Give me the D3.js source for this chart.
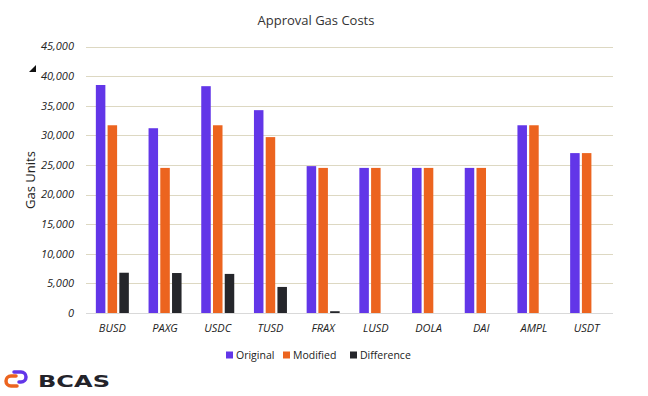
<!DOCTYPE html>
<html>
<head>
    <script src="https://d3js.org/d3.v7.min.js"></script>
    <style>
        body { margin: 0; background: #fff; }
        text { font-family: "Open Sans", "Noto Sans", sans-serif; fill: #222; }
        .tick-label { font-size: 11px; font-style: italic; }
        .title { font-size: 13px; fill: #333; }
        .legend text { font-size: 10.5px; }
    </style>
</head>
<body>
<svg width="648" height="396"></svg>
<script>
    // Chart data
    const categories = ["BUSD", "PAXG", "USDC", "TUSD", "FRAX", "LUSD", "DOLA", "DAI", "AMPL", "USDT"];
    const original   = [38500, 31200, 38300, 34250, 24800, 24500, 24500, 24500, 31700, 27000];
    const modified   = [31700, 24500, 31700, 29700, 24500, 24500, 24500, 24500, 31700, 27000];
    const difference = [6800, 6750, 6600, 4400, 300, 0, 0, 0, 0, 0];
    const seriesNames = ["Original", "Modified", "Difference"];
    const yTicks = [0, 5000, 10000, 15000, 20000, 25000, 30000, 35000, 40000, 45000];

    const colors = ["#6236e8", "#ec641f", "#25262b"];
    const seriesValues = [original, modified, difference];

    const svg = d3.select("svg");

    // Plot area
    const plot = {left: 86, right: 613, top: 46.5, bottom: 313};

    const x = d3.scaleBand().domain(categories).range([plot.left, plot.right]).padding(0);
    const x1 = d3.scaleBand().domain(seriesNames).range([0, 33]).paddingInner(0.19).paddingOuter(0);
    const y = d3.scaleLinear().domain([0, 45000]).range([plot.bottom, plot.top]);

    // Title
    svg.append("text")
        .attr("class", "title")
        .attr("x", 316)
        .attr("y", 25)
        .attr("text-anchor", "middle")
        .text("Approval Gas Costs");

    // Gridlines
    svg.append("g")
        .selectAll("line")
        .data(yTicks)
        .join("line")
        .attr("x1", plot.left)
        .attr("x2", plot.right)
        .attr("y1", d => Math.round(y(d)) + 0.5)
        .attr("y2", d => Math.round(y(d)) + 0.5)
        .attr("stroke", d => d === 0 ? "#d9d9d9" : "#ddd8c2")
        .attr("stroke-width", 1);

    // Y tick labels
    svg.append("g")
        .selectAll("text")
        .data(yTicks)
        .join("text")
        .attr("class", "tick-label")
        .attr("x", 74)
        .attr("y", d => y(d))
        .attr("dy", "0.35em")
        .attr("text-anchor", "end")
        .text(d => d3.format(",")(d));

    // Y axis title
    svg.append("text")
        .attr("transform", "translate(35,180) rotate(-90)")
        .attr("text-anchor", "middle")
        .style("font-size", "13px")
        .text("Gas Units");

    // little marker above the axis
    svg.append("path")
        .attr("d", "M36,65 L36,72 L29,72 Z")
        .attr("fill", "#111");

    // Bars
    const groups = svg.append("g")
        .selectAll("g")
        .data(categories)
        .join("g")
        .attr("transform", d => "translate(" + (x(d) + x.bandwidth() / 2 - 16.5) + ",0)");

    groups.selectAll("rect")
        .data((d, i) => seriesNames.map((s, j) => ({ s: s, v: seriesValues[j][i], c: colors[j] })))
        .join("rect")
        .attr("x", d => x1(d.s))
        .attr("width", x1.bandwidth())
        .attr("y", d => y(d.v))
        .attr("height", d => y(0) - y(d.v))
        .attr("fill", d => d.c);

    // Category labels
    svg.append("g")
        .selectAll("text")
        .data(categories)
        .join("text")
        .attr("class", "tick-label")
        .attr("x", d => x(d) + x.bandwidth() / 2)
        .attr("y", 332)
        .attr("text-anchor", "middle")
        .text(d => d);

    // Legend
    const legendX = [226, 283, 350];
    const legend = svg.append("g")
        .attr("class", "legend")
        .selectAll("g")
        .data(seriesNames)
        .join("g")
        .attr("transform", (d, i) => "translate(" + legendX[i] + ",355)");

    legend.append("rect")
        .attr("x", 0)
        .attr("y", -3.5)
        .attr("width", 7)
        .attr("height", 7)
        .attr("fill", (d, i) => colors[i]);

    legend.append("text")
        .attr("x", 10)
        .attr("y", 0)
        .attr("dy", "0.35em")
        .text(d => d);

    // Logo
    const logo = svg.append("g");
    logo.append("path")
        .attr("d", "M16,376 H11 A5,5 0 0 0 11,386 H17")
        .attr("fill", "none")
        .attr("stroke", "#ec641f")
        .attr("stroke-width", 3.5)
        .attr("stroke-linecap", "round");
    logo.append("path")
        .attr("d", "M14,372 H21 A5,5 0 0 1 21,382 H19")
        .attr("fill", "none")
        .attr("stroke", "#6236e8")
        .attr("stroke-width", 3.5)
        .attr("stroke-linecap", "round");
    logo.append("text")
        .attr("x", 38)
        .attr("y", 387)
        .attr("textLength", 72)
        .attr("lengthAdjust", "spacingAndGlyphs")
        .style("font-family", "'DejaVu Sans', sans-serif")
        .style("font-size", "16.5px")
        .style("font-weight", "bold")
        .style("fill", "#23232a")
        .text("BCAS");
</script>
</body>
</html>
